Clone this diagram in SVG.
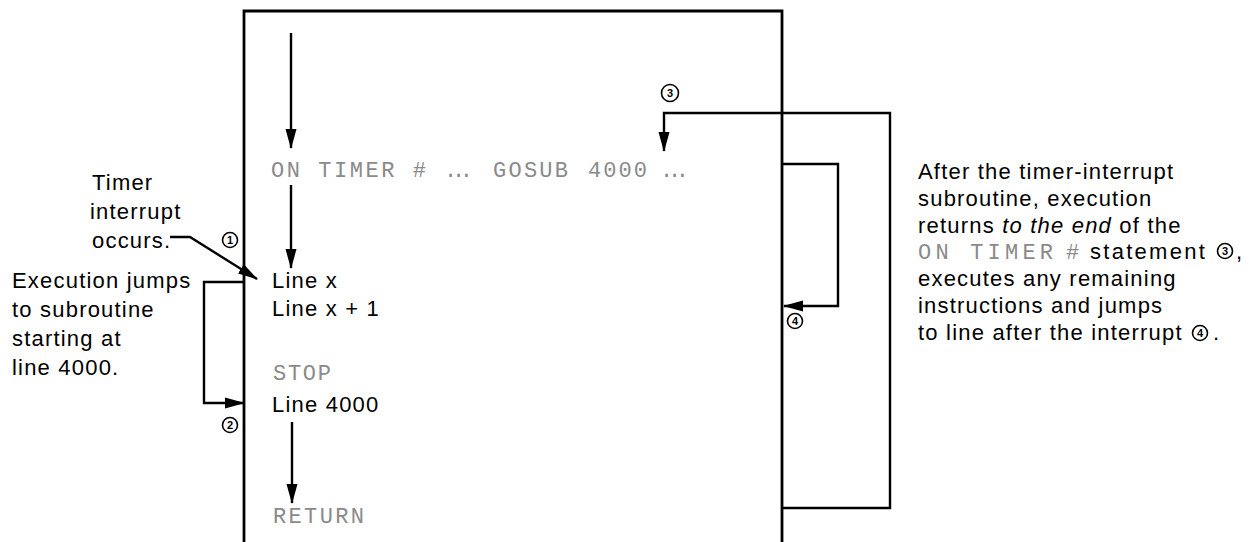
<svg xmlns="http://www.w3.org/2000/svg" width="1253" height="542" viewBox="0 0 1253 542">
<defs>
<marker id="ah" markerUnits="userSpaceOnUse" markerWidth="20" markerHeight="14" viewBox="0 0 20 14" refX="19" refY="7" orient="auto">
<path d="M0,1.5 L20,7 L0,12.5 Z" fill="#000"/>
</marker>
<style>
.ln{fill:none;stroke:#000;stroke-width:2.4}
.bx{fill:none;stroke:#000;stroke-width:2.8}
.t{font-family:"Liberation Sans",Arial,sans-serif;font-size:22px;letter-spacing:1.2px;fill:#000}
.c{font-family:"Liberation Mono","DejaVu Sans Mono",monospace;font-size:22px;fill:#8a8a8a}
.n{font-family:"Liberation Sans",Arial,sans-serif;font-size:11px;font-weight:bold;fill:#000;text-anchor:middle}
.cc{fill:#fff;stroke:#000;stroke-width:1.6}
</style>
</defs>
<rect width="1253" height="542" fill="#fff"/>
<g id="box"><path class="bx" d="M244,542 L244,11 L782,11 L782,542"/></g>
<g id="on-timer">
<text class="c" x="271" y="177" textLength="155" lengthAdjust="spacing">ON TIMER #</text>
<text class="c" x="444" y="177" textLength="29" lengthAdjust="spacing">...</text>
<text class="c" x="493" y="177" textLength="75" lengthAdjust="spacing">GOSUB</text>
<text class="c" x="588" y="177" textLength="59" lengthAdjust="spacing">4000</text>
<text class="c" x="660" y="177" textLength="29" lengthAdjust="spacing">...</text>
</g>
<g id="line-x">
<text class="t" x="272" y="288">Line x</text>
<text class="t" x="272" y="316">Line x + 1</text>
</g>
<g id="stop"><text class="c" x="273" y="380" textLength="58" lengthAdjust="spacing">STOP</text></g>
<g id="line-4000"><text class="t" x="272" y="412">Line 4000</text></g>
<g id="return"><text class="c" x="273" y="523" textLength="91" lengthAdjust="spacing">RETURN</text></g>
<g id="timer-note">
<text class="t" x="92" y="190">Timer</text>
<text class="t" x="90" y="219">interrupt</text>
<text class="t" x="92" y="248">occurs.</text>
</g>
<g id="jump-note">
<text class="t" x="12" y="288">Execution jumps</text>
<text class="t" x="12" y="317">to subroutine</text>
<text class="t" x="12" y="346">starting at</text>
<text class="t" x="12" y="375">line 4000.</text>
</g>
<g id="return-note">
<text class="t" x="918" y="179">After the timer-interrupt</text>
<text class="t" x="918" y="206">subroutine, execution</text>
<text class="t" x="918" y="233">returns <tspan font-style="italic">to the end</tspan> of the</text>
<text class="c" x="918" y="259" textLength="135" lengthAdjust="spacing">ON TIMER</text>
<text class="c" x="1066" y="259">#</text>
<text class="t" x="1090" y="259" textLength="116" lengthAdjust="spacing">statement</text>
<circle class="cc" cx="1225" cy="251" r="7.5"/><text class="n" x="1225" y="255">3</text>
<text class="t" x="1236" y="259">,</text>
<text class="t" x="918" y="286">executes any remaining</text>
<text class="t" x="918" y="313">instructions and jumps</text>
<text class="t" x="918" y="340">to line after the interrupt</text>
<circle class="cc" cx="1200" cy="333" r="7.5"/><text class="n" x="1200" y="337">4</text>
<text class="t" x="1213" y="340">.</text>
</g>
<g id="connectors">
<path class="ln" d="M291,33 L291,148" marker-end="url(#ah)"/>
<path class="ln" d="M291,185 L291,268" marker-end="url(#ah)"/>
<path class="ln" d="M292,422 L292,503" marker-end="url(#ah)"/>
<path class="ln" d="M170,237 L190,237 L257,279" marker-end="url(#ah)"/>
<path class="ln" d="M244,282 L204,282 L204,403 L244,403" marker-end="url(#ah)"/>
<path class="ln" d="M782,508 L890,508 L890,113 L664,113 L664,151" marker-end="url(#ah)"/>
<path class="ln" d="M782,164 L838,164 L838,306 L784,306" marker-end="url(#ah)"/>
</g>
<g id="markers">
<circle class="cc" cx="230" cy="240" r="7.5"/><text class="n" x="230" y="244">1</text>
<circle class="cc" cx="230" cy="425" r="7.5"/><text class="n" x="230" y="429">2</text>
<circle class="cc" cx="670" cy="93" r="8.5"/><text class="n" x="670" y="97">3</text>
<circle class="cc" cx="795" cy="321" r="7.5"/><text class="n" x="795" y="325">4</text>
</g>
</svg>
